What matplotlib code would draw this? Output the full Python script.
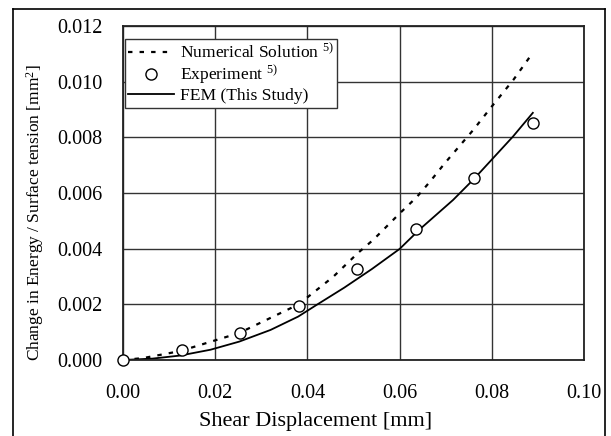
import matplotlib
matplotlib.use("Agg")
import matplotlib.pyplot as plt
from matplotlib.lines import Line2D

plt.rcParams['font.family'] = ['Liberation Serif', 'DejaVu Serif']
plt.rcParams['mathtext.fontset'] = 'custom'
plt.rcParams['mathtext.rm'] = 'Liberation Serif'
plt.rcParams['mathtext.it'] = 'Liberation Serif:italic'

# Data
num_x = [0.0, 0.0044, 0.0124, 0.0252, 0.0381, 0.0456, 0.0510, 0.0543, 0.0601, 0.0637,
         0.0666, 0.0698, 0.0760, 0.0800, 0.0847, 0.0889]
num_y = [0.0, 0.00007, 0.00032, 0.00097, 0.00200, 0.00299, 0.00385, 0.00432, 0.00528, 0.00585,
         0.00641, 0.00707, 0.00827, 0.00911, 0.01007, 0.01104]

exp_x = [0.0, 0.0127, 0.0254, 0.0381, 0.0508, 0.0635, 0.0762, 0.0889]
exp_y = [0.0, 0.00035, 0.00097, 0.00193, 0.00327, 0.00470, 0.00653, 0.00853]

fem_x = [0.0, 0.0064, 0.0124, 0.0190, 0.0252, 0.0320, 0.0380, 0.0420, 0.0480, 0.0540,
         0.0600, 0.0644, 0.0716, 0.0761, 0.0846, 0.0889]
fem_y = [0.0, 0.00005, 0.00016, 0.00037, 0.00066, 0.00108, 0.00156, 0.00198, 0.00260, 0.00327,
         0.00399, 0.00470, 0.00575, 0.00650, 0.00803, 0.00888]

xticks = [0.0, 0.02, 0.04, 0.06, 0.08, 0.10]
yticks = [0.0, 0.002, 0.004, 0.006, 0.008, 0.010, 0.012]

fig = plt.figure(figsize=(6.11, 4.36), dpi=100)
W, H = 611, 436
ax = fig.add_axes([123 / W, 1 - 360 / H, (584 - 123) / W, (360 - 26) / H])

ax.plot(num_x, num_y, color='black', lw=1.6, linestyle=(0, (2, 3.2)),
        label='Numerical Solution $^{5)}$')
ax.plot(exp_x, exp_y, linestyle='none', marker='o', ms=8, mfc='white', mec='black',
        mew=1.0, label='Experiment $^{5)}$', zorder=3, clip_on=False)
ax.plot(fem_x, fem_y, color='black', lw=1.3, label='FEM (This Study)')

ax.set_xlim(0, 0.10)
ax.set_ylim(0, 0.012)
ax.set_xticks(xticks)
ax.set_yticks(yticks)
ax.set_xticklabels([f'{v:.2f}' for v in xticks])
ax.set_yticklabels([f'{v:.3f}' for v in yticks])
ax.tick_params(axis='both', length=0, labelsize=14.5)
ax.tick_params(axis='y', pad=15)
ax.tick_params(axis='x', pad=17)
ax.grid(True, color='#333333', lw=1.0)
ax.set_axisbelow(True)
for s in ax.spines.values():
    s.set_linewidth(1.3)
    s.set_color('#222222')

ax.set_xlabel('Shear Displacement [mm]', fontsize=16)
ax.xaxis.set_label_coords((316 - 123) / 461, -(412 - 360) / 334)
ax.set_ylabel('Change in Energy / Surface tension [mm$^2$]', fontsize=12.5)
ax.yaxis.set_label_coords((46 - 123) / 461, (360 - 213) / 334)

leg = ax.legend(loc='upper left', bbox_to_anchor=(0.004, 0.96), fontsize=12.6,
                frameon=True, fancybox=False, framealpha=1, edgecolor='#333333',
                borderpad=0.2, labelspacing=0.1, handlelength=2.6, handletextpad=0.35,
                borderaxespad=0.0)
leg.get_frame().set_linewidth(1.0)

# Outer frame
kw = dict(color='black', lw=1.2, transform=fig.transFigure)
fig.add_artist(Line2D([13 / W, 605 / W], [1 - 9 / H, 1 - 9 / H], **kw))
fig.add_artist(Line2D([13 / W, 13 / W], [0, 1 - 9 / H], **kw))
fig.add_artist(Line2D([605 / W, 605 / W], [0, 1 - 9 / H], **kw))

fig.savefig('out.png', dpi=100)
